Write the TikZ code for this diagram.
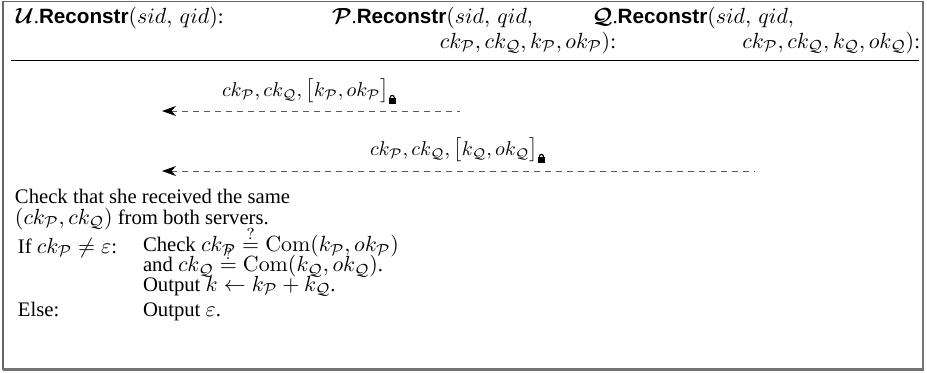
\documentclass[tikz,border=0pt]{standalone}
\usepackage{amsmath}
\usepackage{amssymb}
\usepackage[no-math]{fontspec}
\setmainfont{Liberation Serif}[Scale=0.94]
\setsansfont{Liberation Sans}[Scale=0.94]
\usepackage{tikz}
\usetikzlibrary{arrows.meta,positioning,calc}
\newcommand{\Rec}{\textsf{\bfseries Reconstr}}
\newcommand{\LockSym}{\tikz[baseline=0pt,x=1pt,y=1pt]{%
    \fill (0,0) rectangle (3.6,2.8);
    \draw[line width=0.6pt] (0.8,2.6) -- (0.8,3.3)
        arc[start angle=180,end angle=0,radius=1] -- (2.8,2.6);}}
\newcommand{\SP}{\mathcal{P}}
\newcommand{\SQ}{\mathcal{Q}}
\newcommand{\TightLines}{\lineskiplimit-20pt\relax}

\begin{document}
\begin{tikzpicture}[x=0.5pt,y=-0.5pt]
    \tikzset{
        recon frame/.style={draw=black!60, line width=0.8pt},
        recon shade/.style={draw=black!55, line width=1.4pt},
        recon rule/.style={draw=black, line width=0.5pt},
        recon text/.style={inner sep=0pt, outer sep=0pt, anchor=base west,
            font=\fontsize{11pt}{13pt}\selectfont},
        recon text east/.style={recon text, anchor=base east},
        recon block/.style={recon text, align=left,
            font=\fontsize{11pt}{9.7pt}\selectfont\TightLines},
        recon msg/.style={recon text, font=\fontsize{10pt}{12pt}\selectfont},
        share flow/.style={{Stealth[length=7pt,width=5pt,color=black]}-,
            draw=black!65, line width=0.5pt, dash pattern=on 3.2pt off 2.3pt}
    }
    \useasboundingbox (0,0) rectangle (927,372);
    \draw[recon frame] (3,1.5) rectangle (923,369.5);
    \draw[recon shade] (923,1.5) -- (923,369.5) -- (3,369.5);

    % party headers
    \node[recon text] (user-head) at (16,23)
        {$\boldsymbol{\mathcal{U}}$.\Rec$(sid,\,qid)$:};
    \node[recon text] (p-head) at (332,23)
        {$\boldsymbol{\SP}$.\Rec$(sid,\,qid,$};
    \node[recon text east] (p-head-args) at (616,48)
        {$ck_{\SP}, ck_{\SQ}, k_{\SP}, ok_{\SP})$:};
    \node[recon text] (q-head) at (592,23)
        {$\boldsymbol{\SQ}$.\Rec$(sid,\,qid,$};
    \node[recon text east] (q-head-args) at (920,48)
        {$ck_{\SP}, ck_{\SQ}, k_{\SQ}, ok_{\SQ})$:};
    \draw[recon rule] (11,60) -- (919,60);

    % messages from the servers
    \coordinate (user-in-p) at (162,111);
    \coordinate (p-out) at (460,111);
    \coordinate (user-in-q) at (162,171);
    \coordinate (q-out) at (755,171);
    \draw[share flow] (user-in-p) -- (p-out);
    \draw[share flow] (user-in-q) -- (q-out);
    \node[recon msg] (p-msg) at (222,96)
        {$ck_{\SP}, ck_{\SQ}, \bigl[k_{\SP}, ok_{\SP}\bigr]_{\LockSym}$};
    \node[recon msg] (q-msg) at (370,155)
        {$ck_{\SP}, ck_{\SQ}, \bigl[k_{\SQ}, ok_{\SQ}\bigr]_{\LockSym}$};

    % user side checks
    \node[recon block] (user-check) at (15,224)
        {Check that she received the same\\[0.8pt]
         $(ck_{\SP}, ck_{\SQ})$ from both servers.};
    \node[recon text] (case-if) at (18,253) {If $ck_{\SP}\neq\varepsilon$:};
    \node[recon block] (case-if-do) at (143,291)
        {Check $ck_{\SP}\stackrel{?}{=}\mathrm{Com}(k_{\SP}, ok_{\SP})$\\[0.3pt]
         and $ck_{\SQ}\stackrel{?}{=}\mathrm{Com}(k_{\SQ}, ok_{\SQ})$.\\
         Output $k\leftarrow k_{\SP}+k_{\SQ}$.};
    \node[recon text] (case-else) at (18,316) {Else:};
    \node[recon text] (case-else-do) at (143,316) {Output $\varepsilon$.};
\end{tikzpicture}
\end{document}
